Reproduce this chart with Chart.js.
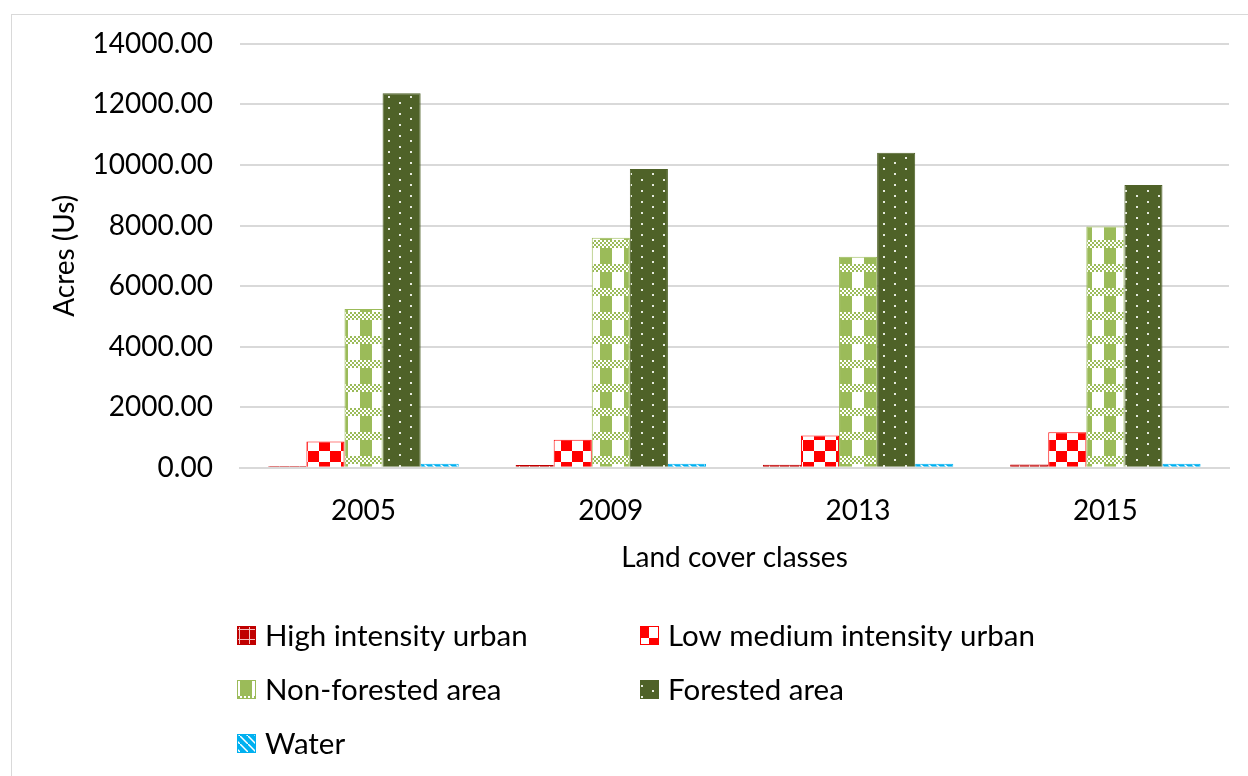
<!DOCTYPE html>
<html>
<head>
    <style>
        html, body { margin: 0; padding: 0; background: #fff; overflow: hidden; }
        #frame { position: absolute; left: 11px; top: 14px; width: 1300px; height: 800px; border: 1px solid #d9d9d9; }
        #chart-container { position: absolute; left: 0; top: 0; width: 1248px; height: 776px; }
    </style>
    <script src="https://cdn.jsdelivr.net/npm/chart.js"></script>
</head>
<body>
    <div id="frame"></div>
    <div id="chart-container">
        <canvas id="landChart" width="1248" height="776"></canvas>
    </div>

    <script>
        // data
        const years = ['2005', '2009', '2013', '2015'];
        const highUrban = [60, 90, 100, 110];
        const lowMedUrban = [870, 930, 1070, 1170];
        const nonForested = [5240, 7600, 6970, 7970];
        const forested = [12370, 9870, 10400, 9340];
        const water = [130, 130, 130, 130];
        const yTicks = [0, 2000, 4000, 6000, 8000, 10000, 12000, 14000];

        const FONT = 'Lato, Carlito, "Liberation Sans", sans-serif';

        // little pattern tiles, same look as the Excel fills
        function makeTile(w, h, draw) {
            const c = document.createElement('canvas');
            c.width = w; c.height = h;
            const g = c.getContext('2d');
            draw(g);
            return c;
        }
        const ctx = document.getElementById('landChart').getContext('2d');

        const tiles = {
            high: makeTile(10, 10, g => {
                g.fillStyle = '#C00000'; g.fillRect(0, 0, 10, 10);
                g.fillStyle = '#f4c0c0'; g.fillRect(0, 9, 10, 1); g.fillRect(9, 0, 1, 10);
            }),
            low: makeTile(22, 22, g => {
                g.fillStyle = '#FF0000'; g.fillRect(0, 0, 22, 22);
                g.fillStyle = '#ffffff'; g.fillRect(0, 0, 11, 11); g.fillRect(11, 11, 11, 11);
            }),
            nonfor: makeTile(24, 24, g => {
                g.fillStyle = '#9BBB59'; g.fillRect(0, 0, 24, 24);
                g.fillStyle = '#ffffff';
                for (let y = 0; y < 8; y += 2)
                    for (let x = (y / 2) % 2 * 2; x < 24; x += 4) g.fillRect(x, y, 2, 2);
                g.fillRect(12, 8, 12, 16);
            }),
            forest: makeTile(22, 22, g => {
                g.fillStyle = '#4F6228'; g.fillRect(0, 0, 22, 22);
                g.fillStyle = '#e8ecdf';
                g.fillRect(3, 3, 2, 2); g.fillRect(14, 8, 2, 2);
                g.fillRect(3, 14, 2, 2); g.fillRect(14, 19, 2, 2);
            }),
            water: makeTile(8, 8, g => {
                g.fillStyle = '#00B0F0'; g.fillRect(0, 0, 8, 8);
                g.strokeStyle = '#ffffff'; g.lineWidth = 1.5;
                g.beginPath(); g.moveTo(0, 0); g.lineTo(8, 8); g.stroke();
            })
        };
        const pat = k => ctx.createPattern(tiles[k], 'repeat');

        // legend in two columns, drawn on the canvas
        const gridLegend = {
            id: 'gridLegend',
            afterDraw(chart) {
                const c = chart.ctx;
                const cols = [237, 640], rows = [635, 689, 743];
                c.save();
                c.font = '29.5px ' + FONT;
                c.textBaseline = 'middle';
                chart.data.datasets.forEach((ds, i) => {
                    const x = cols[i % 2], y = rows[Math.floor(i / 2)];
                    c.fillStyle = ds.backgroundColor;
                    c.fillRect(x, y - 9, 19, 19);
                    c.strokeStyle = ds.borderColor; c.lineWidth = 1;
                    c.strokeRect(x + 0.5, y - 8.5, 18, 18);
                    c.fillStyle = '#000';
                    c.fillText(ds.label, x + 28, y + 1);
                });
                c.restore();
            }
        };

        new Chart(ctx, {
            type: 'bar',
            data: {
                labels: years,
                datasets: [
                    { label: 'High intensity urban', data: highUrban, backgroundColor: pat('high'), borderColor: '#C00000' },
                    { label: 'Low medium intensity urban', data: lowMedUrban, backgroundColor: pat('low'), borderColor: '#FF0000' },
                    { label: 'Non-forested area', data: nonForested, backgroundColor: pat('nonfor'), borderColor: '#9BBB59' },
                    { label: 'Forested area', data: forested, backgroundColor: pat('forest'), borderColor: '#4F6228' },
                    { label: 'Water', data: water, backgroundColor: pat('water'), borderColor: '#00B0F0' }
                ]
            },
            options: {
                responsive: false,
                animation: false,
                layout: { padding: { left: 40, right: 19, top: 43, bottom: 201 } },
                datasets: { bar: { barPercentage: 1, categoryPercentage: 0.77, borderWidth: 1 } },
                plugins: {
                    legend: { display: false },
                    tooltip: { enabled: false }
                },
                scales: {
                    x: {
                        grid: { display: false, drawTicks: false },
                        border: { color: '#d9d9d9', width: 2 },
                        ticks: { color: '#000', font: { family: FONT, size: 28 }, padding: 26 },
                        title: { display: true, text: 'Land cover classes', color: '#000', font: { family: FONT, size: 28 }, padding: { top: -12, bottom: 0 } }
                    },
                    y: {
                        min: 0, max: 14000,
                        afterBuildTicks: axis => { axis.ticks = yTicks.map(v => ({ value: v })); },
                        grid: { color: '#d9d9d9', lineWidth: 2, drawTicks: false },
                        border: { display: false },
                        ticks: { color: '#000', font: { family: FONT, size: 28 }, padding: 27, callback: v => v.toFixed(2) },
                        title: { display: true, text: 'Acres (Us)', color: '#000', font: { family: FONT, size: 28 }, padding: { top: 8, bottom: -16 } }
                    }
                }
            },
            plugins: [gridLegend]
        });
    </script>
</body>
</html>
